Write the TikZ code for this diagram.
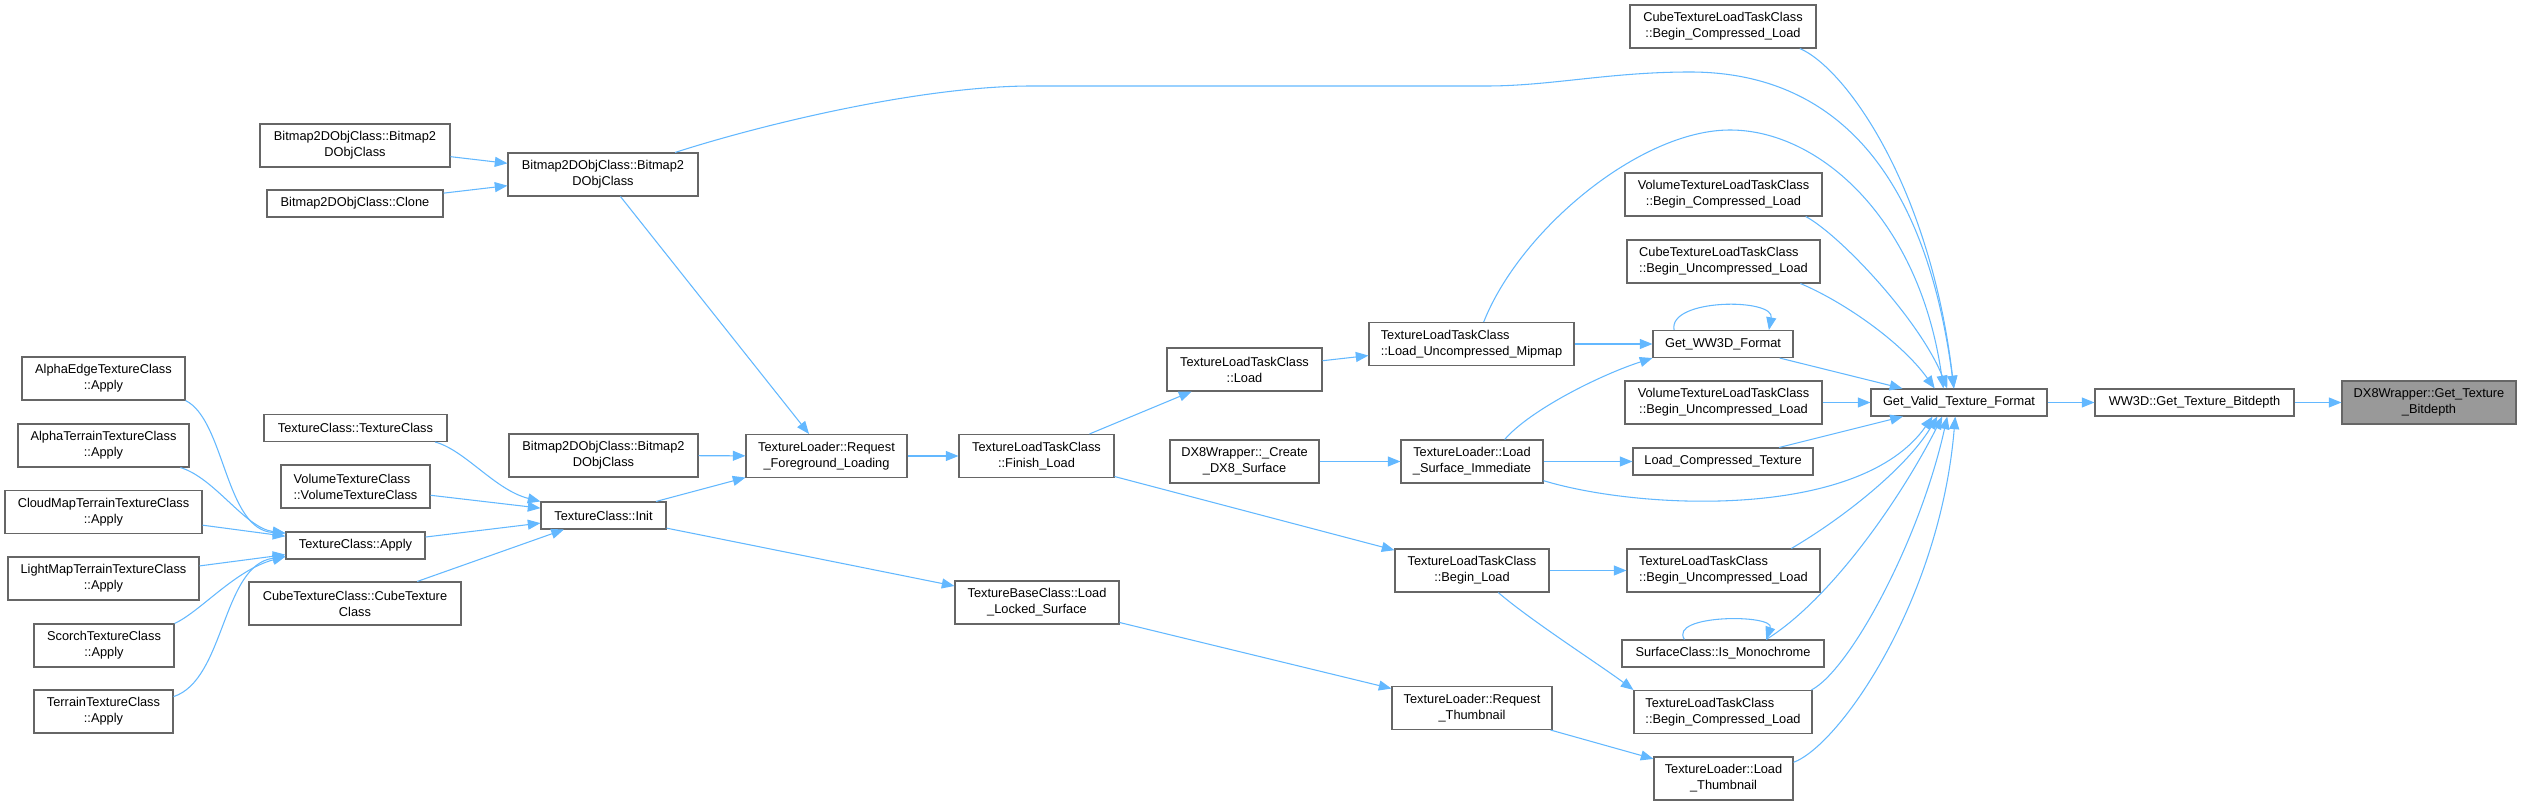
\documentclass[tikz,border=0pt]{standalone}
\usepackage{fontspec}
\setmainfont{Liberation Sans}
\usepackage{xcolor}
\usepackage{tikz}
\usetikzlibrary{arrows.meta}

\definecolor{edgeblue}{HTML}{63B8FF}
\definecolor{nodeline}{HTML}{666666}
\definecolor{rootfill}{HTML}{999999}

\begin{document}
\begin{tikzpicture}[
  x=0.75pt, y=-0.75pt,
  box/.style = {rectangle, draw=nodeline, line width=0.8pt, fill=white,
                minimum height=20.25pt, inner xsep=2pt, inner ysep=1pt,
                align=center, font=\fontsize{9.6}{12}\selectfont},
  two/.style = {minimum height=32.25pt},
  arr/.style = {-{Triangle[length=9.5pt,width=7.5pt]}, line width=0.8pt, edgeblue}
]
  \useasboundingbox (0,0) rectangle (2521,805);

  % callers of TextureClass::Apply
  \node[box, two, minimum width=122.25pt] (alphaEdge)    at (103.5,378.5) {AlphaEdgeTextureClass\\::Apply};
  \node[box, two, minimum width=128.25pt] (alphaTerrain) at (103.5,445.5) {AlphaTerrainTextureClass\\::Apply};
  \node[box, two, minimum width=147.75pt] (cloudMap)     at (103.5,512)   {CloudMapTerrainTextureClass\\::Apply};
  \node[box, two, minimum width=143.25pt] (lightMap)     at (103.5,578.5) {LightMapTerrainTextureClass\\::Apply};
  \node[box, two, minimum width=105pt]    (scorch)       at (104,645.5)   {ScorchTextureClass\\::Apply};
  \node[box, two, minimum width=104.25pt] (terrain)      at (103.5,711.5) {TerrainTextureClass\\::Apply};

  \node[box, two, minimum width=142.5pt]  (bmpA)     at (355,145.5)   {Bitmap2DObjClass::Bitmap2\\DObjClass};
  \node[box, minimum width=132pt]         (bmpClone) at (355,203.5)   {Bitmap2DObjClass::Clone};
  \node[box, minimum width=137.25pt]      (texCtor)  at (355.5,428)   {TextureClass::TextureClass};
  \node[box, two, minimum width=111.75pt, align=left] (volCtor) at (355.5,486.5) {VolumeTextureClass\\::VolumeTextureClass};
  \node[box, minimum width=104.25pt]      (texApply) at (355.5,545.5) {TextureClass::Apply};
  \node[box, two, minimum width=159pt]    (cubeCtor) at (355,603.5)   {CubeTextureClass::CubeTexture\\Class};

  \node[box, two, minimum width=142.5pt]  (bmp)     at (603,174.5)   {Bitmap2DObjClass::Bitmap2\\DObjClass};
  \node[box, two, minimum width=141.75pt] (bmpB)    at (603.5,455.5) {Bitmap2DObjClass::Bitmap2\\DObjClass};
  \node[box, minimum width=93.75pt]       (texInit) at (603.5,515.5) {TextureClass::Init};

  \node[box, two, minimum width=120.75pt] (reqFg) at (826.5,456) {TextureLoader::Request\\\_Foreground\_Loading};

  \node[box, two, minimum width=116.25pt] (finish)     at (1036.5,456) {TextureLoadTaskClass\\::Finish\_Load};
  \node[box, two, minimum width=123pt]    (lockedSurf) at (1037,602.5) {TextureBaseClass::Load\\\_Locked\_Surface};

  \node[box, two, minimum width=116.25pt] (tltLoad)    at (1244.5,369.5) {TextureLoadTaskClass\\::Load};
  \node[box, two, minimum width=111.75pt] (createSurf) at (1244.5,461.5) {DX8Wrapper::\_Create\\\_DX8\_Surface};

  \node[box, two, minimum width=153.75pt, align=left] (loadMip) at (1471.5,344) {TextureLoadTaskClass\\::Load\_Uncompressed\_Mipmap};
  \node[box, two, minimum width=106.5pt]  (loadSurf)  at (1472,461.5) {TextureLoader::Load\\\_Surface\_Immediate};
  \node[box, two, minimum width=115.5pt]  (beginLoad) at (1472,570.5) {TextureLoadTaskClass\\::Begin\_Load};
  \node[box, two, minimum width=120pt]    (reqThumb)  at (1472,708)   {TextureLoader::Request\\\_Thumbnail};

  % direct callers of Get_Valid_Texture_Format
  \node[box, two, minimum width=139.5pt]  (cubeBCL) at (1723,26.5)    {CubeTextureLoadTaskClass\\::Begin\_Compressed\_Load};
  \node[box, two, minimum width=147.75pt] (volBCL)  at (1723.5,194.5) {VolumeTextureLoadTaskClass\\::Begin\_Compressed\_Load};
  \node[box, two, minimum width=144.75pt, align=left] (cubeBUL) at (1723.5,261.5) {CubeTextureLoadTaskClass\\::Begin\_Uncompressed\_Load};
  \node[box, minimum width=105pt]         (getFmt)  at (1723,344)     {Get\_WW3D\_Format};
  \node[box, two, minimum width=147.75pt] (volBUL)  at (1723.5,402.5) {VolumeTextureLoadTaskClass\\::Begin\_Uncompressed\_Load};
  \node[box, minimum width=135pt]         (loadComp) at (1723,461.5)  {Load\_Compressed\_Texture};
  \node[box, two, minimum width=144.75pt, align=left] (tltBUL) at (1723.5,570.5) {TextureLoadTaskClass\\::Begin\_Uncompressed\_Load};
  \node[box, minimum width=151.5pt]       (isMono)  at (1723,653.5)   {SurfaceClass::Is\_Monochrome};
  \node[box, two, minimum width=133.5pt, align=left] (tltBCL) at (1723,712) {TextureLoadTaskClass\\::Begin\_Compressed\_Load};
  \node[box, two, minimum width=104.25pt] (loadThumb) at (1723.5,778.5) {TextureLoader::Load\\\_Thumbnail};

  \node[box, minimum width=132pt]    (getValid) at (1959,402.5)   {Get\_Valid\_Texture\_Format};
  \node[box, minimum width=149.25pt] (ww3dBit)  at (2194.5,402.5) {WW3D::Get\_Texture\_Bitdepth};
  \node[box, two, fill=rootfill, minimum width=130.5pt] (dx8Bit) at (2429,402.5) {DX8Wrapper::Get\_Texture\\\_Bitdepth};

  % edges, left to right
  \draw[arr] (bmpA) -- (bmp);
  \draw[arr] (bmpClone) -- (bmp);
  \draw[arr] (bmp) -- (reqFg);
  \draw[arr] (bmp.17) .. controls (760,125) and (920,86) .. (1032,86) -- (1487,86)
    .. controls (1550,86) and (1610,72) .. (1690,72)
    .. controls (1800,72) and (1920,130) .. (getValid.110);

  \draw[arr] (alphaEdge.south east) .. controls (225,420) and (225,530) .. (texApply.170);
  \draw[arr] (alphaTerrain.-16) .. controls (215,478) and (245,528) .. (texApply.170);
  \draw[arr] (cloudMap) -- (texApply);
  \draw[arr] (lightMap) -- (texApply);
  \draw[arr] (scorch.north east) .. controls (200,612) and (235,570) .. (texApply.-171);
  \draw[arr] (terrain.12) .. controls (225,680) and (222,565) .. (texApply.-171);

  \draw[arr] (texCtor.-10) .. controls (465,450) and (495,490) .. (texInit.north west);
  \draw[arr] (volCtor) -- (texInit);
  \draw[arr] (texApply) -- (texInit);
  \draw[arr] (cubeCtor) -- (texInit);

  \draw[arr] (bmpB) -- (reqFg);
  \draw[arr] (texInit) -- (reqFg);
  \draw[arr] (texInit) -- (lockedSurf);
  \draw[arr] (reqFg) -- (finish);
  \draw[arr] (finish) -- (tltLoad);
  \draw[arr] (finish) -- (beginLoad);
  \draw[arr] (lockedSurf) -- (reqThumb);
  \draw[arr] (reqThumb) -- (loadThumb);
  \draw[arr] (tltLoad) -- (loadMip);
  \draw[arr] (loadMip) -- (getFmt);
  \draw[arr] (loadMip.61) .. controls (1520,230) and (1640,130) .. (1730,130)
    .. controls (1820,130) and (1920,220) .. (getValid.138);
  \draw[arr] (createSurf) -- (loadSurf);
  \draw[arr] (loadSurf.34) .. controls (1530,410) and (1600,375) .. (getFmt.south west);
  \draw[arr] (loadSurf) -- (loadComp);
  \draw[arr] (loadSurf.-15) .. controls (1640,510) and (1860,520) .. (getValid.-152);
  \draw[arr] (beginLoad) -- (tltBUL);
  \draw[arr] (beginLoad.-40) .. controls (1530,620) and (1600,665) .. (tltBCL.north west);

  \draw[arr] (cubeBCL.-16) .. controls (1845,68) and (1930,185) .. (getValid.110);
  \draw[arr] (volBCL.-15) .. controls (1840,235) and (1920,320) .. (getValid.130);
  \draw[arr] (cubeBUL.-16) .. controls (1840,300) and (1900,340) .. (getValid.150);
  \draw[arr] (getFmt.164) .. controls (1668,298) and (1775,298) .. (getFmt.17);
  \draw[arr] (getFmt) -- (getValid);
  \draw[arr] (volBUL) -- (getValid);
  \draw[arr] (loadComp) -- (getValid);
  \draw[arr] (tltBUL.18) .. controls (1840,520) and (1905,470) .. (getValid.-147);
  \draw[arr] (isMono.160) .. controls (1668,614) and (1775,614) .. (isMono.18);
  \draw[arr] (isMono.18) .. controls (1830,600) and (1900,500) .. (getValid.-140);
  \draw[arr] (tltBCL.14) .. controls (1850,670) and (1920,540) .. (getValid.-130);
  \draw[arr] (loadThumb.13) .. controls (1840,745) and (1940,600) .. (getValid.-105);

  \draw[arr] (getValid) -- (ww3dBit);
  \draw[arr] (ww3dBit) -- (dx8Bit);
\end{tikzpicture}
\end{document}
